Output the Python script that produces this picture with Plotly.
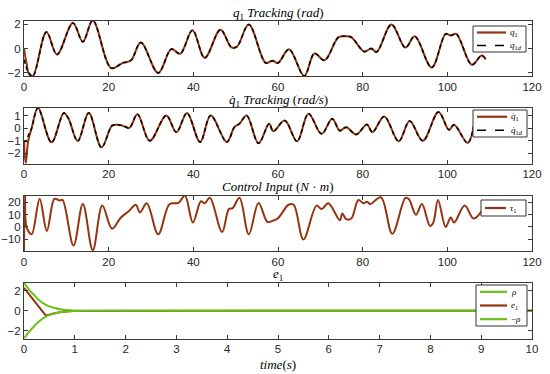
import plotly.graph_objects as go

# ---------------- data ----------------
q1_t = [0, 0.6, 1.2, 2.1, 5.3, 7.8, 11.55, 13.9, 16.25, 20.6, 23.3, 25.3, 27.6, 31.7, 34.8, 36.9,
        39.8, 42.7, 46.4, 49.0, 50.3, 53.1, 57.1, 58.7, 60.0, 62.6, 66.2, 68.6, 71.0, 74.3, 76.1,
        77.3, 80.4, 82.0, 83.3, 86.8, 90.1, 92.3, 96.3, 99.6, 100.8, 102.1, 105.8, 108.1, 109.1]
q1_v = [0.0, -1.2, -2.1, -2.25, 1.35, -0.48, 2.1, 0.56, 2.3, -1.6, -1.18, -0.96, 0.5, -2.0, -0.05, -0.42,
        1.5, -0.76, 1.55, 0.1, 0.15, 1.97, -1.18, -1.0, -1.18, -0.06, -2.25, -0.4, -0.96, 0.93, 1.0,
        0.93, -0.25, 0.0, -0.28, 1.97, 0.08, 1.0, -1.55, 1.2, 1.07, 1.2, -1.33, -0.56, -0.9]
q1d_head_t = [0, 1.0]
q1d_head_v = [-0.9, -1.9]

dq1_t = [0, 0.4, 1.0, 1.8, 3.3, 6.5, 9.4, 10.5, 12.7, 15.3, 18.3, 20.8, 22.0, 23.3, 24.9, 26.8, 29.7,
         33.6, 36.0, 38.5, 41.6, 44.1, 47.9, 49.7, 50.9, 52.6, 55.4, 57.9, 58.9, 61.6, 64.5, 67.2,
         70.3, 72.8, 74.6, 76.1, 78.5, 81.0, 82.3, 85.1, 88.5, 91.1, 94.2, 97.9, 100.4, 101.6, 104.8, 106.4]
dq1_v = [-1.0, -2.8, -1.0, 0.0, 1.6, -1.12, 1.2, 0.77, -1.02, 1.2, -1.52, 0.2, 0.27, 0.2, 0.03, 1.1, -1.0,
         1.0, -0.32, 1.2, -1.1, 1.0, -1.1, 0.08, 0.35, 1.0, -1.2, 0.35, -0.24, 0.6, -1.04, 1.15,
         -0.45, 0.75, -0.2, 0.08, -0.5, 0.3, -0.32, 0.93, -1.04, 0.56, -1.0, 1.28, -0.13, 0.27, -1.17, 0.48]
dq1d_head_t = [0, 0.5, 1.0]
dq1d_head_v = [-1.0, -1.05, -0.6]

tau_t = [0, 0.25, 0.6, 1.8, 3.7, 5.4, 7.2, 8.4, 9.1, 11.7, 13.9, 16.25, 18.5, 20.8, 22.9, 24.8, 26.4,
         27.4, 29.0, 31.7, 34.4, 36.5, 38.0, 39.9, 41.8, 42.7, 43.9, 46.8, 48.4, 49.3, 50.9, 53.1,
         55.4, 57.5, 58.7, 60.0, 62.5, 63.7, 66.0, 69.1, 70.3, 71.9, 74.6, 75.2, 76.1, 77.3, 79.0,
         80.2, 81.0, 81.8, 84.3, 87.0, 90.1, 90.9, 92.6, 94.0, 95.9, 96.7, 97.8, 99.6, 100.8, 101.6,
         104.1, 106.2, 108.7]
tau_v = [-19.5, 25.5, 0, -6, 22.7, -3.3, 22.7, 21.4, 21.9, -15, 18.6, -18.8, 17.3, -1.4, 7.7, 13.0, 18,
         11.8, 19.2, -6, 18.6, 19.5, 25.5, 3.6, 20.8, 19.2, 23.6, -4.1, 14.5, 15.3, 23.6, -6,
         19.5, 4.1, 4.9, 7.1, 18, 18, -10.1, 17.3, 14.5, 19.2, 5.5, 11, 6.3, 6.8, 21.9,
         19.2, 20.5, 18.6, 24.1, -5.5, 23.6, 22.7, 9.9, 18.6, 0.8, 3.6, 21.9, 0, 7.7, 3.6,
         17.3, 6.8, 15.9]

rho_t = [0, 0.12, 0.22, 0.31, 0.44, 0.58, 0.77, 0.97, 1.2, 10]
rho_v = [2.8, 2.0, 1.47, 1.0, 0.56, 0.3, 0.1, 0.03, 0.01, 0.01]
e1_t = [0, 0.43, 0.58, 0.77, 0.97, 10]
e1_v = [2.3, -0.5, -0.28, -0.09, -0.02, 0.0]

xticks_top = [0, 20, 40, 60, 80, 100, 120]
xticks_e = list(range(0, 11))
yticks1 = [-2, 0, 2]
yticks2 = [-2, -1, 0, 1]
yticks3 = [-10, 0, 10, 20]
yticks4 = [-2, 0, 2]

# ---------------- styling ----------------
W, H = 550, 374
BROWN = "#953410"
GREEN = "#6cc01c"
AX = "#3a3a3a"
SERIF = "Liberation Serif"
SANS = "Liberation Sans"


def px_x(p):
    return p / W


def px_y(p):
    return 1 - p / H


left, right = 24, 532
rows = [(20.5, 76), (108, 163.5), (195.5, 251), (283, 338.5)]

fig = go.Figure()

q1d_t = q1d_head_t + q1_t[3:]
q1d_v = q1d_head_v + q1_v[3:]
dq1d_t = dq1d_head_t + dq1_t[3:]
dq1d_v = dq1d_head_v + dq1_v[3:]

NM = {
    "q1": "<i>q</i><sub>1</sub>",
    "q1d": "<i>q</i><sub>1<i>d</i></sub>",
    "dq1": "<i>q\u0307</i><sub>1</sub>",
    "dq1d": "<i>q\u0307</i><sub>1<i>d</i></sub>",
    "tau": "<i>τ</i><sub>1</sub>",
    "rho": "<i>ρ</i>",
    "e1": "<i>e</i><sub>1</sub>",
    "mrho": "−<i>ρ</i>",
}
DASH = "4px,3px"

fig.add_trace(go.Scatter(x=q1_t, y=q1_v, mode="lines", line=dict(color=BROWN, width=2, shape="spline", smoothing=1),
                         name=NM["q1"], xaxis="x", yaxis="y"))
fig.add_trace(go.Scatter(x=q1d_t, y=q1d_v, mode="lines", line=dict(color="black", width=1.5, dash=DASH, shape="spline", smoothing=1),
                         name=NM["q1d"], xaxis="x", yaxis="y"))
fig.add_trace(go.Scatter(x=dq1_t, y=dq1_v, mode="lines", line=dict(color=BROWN, width=2, shape="spline", smoothing=1),
                         name=NM["dq1"], xaxis="x2", yaxis="y2"))
fig.add_trace(go.Scatter(x=dq1d_t, y=dq1d_v, mode="lines", line=dict(color="black", width=1.5, dash=DASH, shape="spline", smoothing=1),
                         name=NM["dq1d"], xaxis="x2", yaxis="y2"))
fig.add_trace(go.Scatter(x=tau_t, y=tau_v, mode="lines", line=dict(color=BROWN, width=2, shape="spline", smoothing=1),
                         name=NM["tau"], xaxis="x3", yaxis="y3"))
fig.add_trace(go.Scatter(x=rho_t, y=rho_v, mode="lines", line=dict(color=GREEN, width=2, shape="spline", smoothing=0.8),
                         name=NM["rho"], xaxis="x4", yaxis="y4"))
fig.add_trace(go.Scatter(x=e1_t, y=e1_v, mode="lines", line=dict(color=BROWN, width=2),
                         name=NM["e1"], xaxis="x4", yaxis="y4"))
fig.add_trace(go.Scatter(x=rho_t, y=[-v for v in rho_v], mode="lines", line=dict(color=GREEN, width=2, shape="spline", smoothing=0.8),
                         name=NM["mrho"], xaxis="x4", yaxis="y4"))

axis_common = dict(showline=True, linecolor=AX, linewidth=1, mirror="ticks", ticks="inside", ticklen=4,
                   tickcolor=AX, showgrid=False, zeroline=False, automargin=False,
                   tickfont=dict(family=SANS, size=11.5, color="#262626"))

yranges = [[-2.25, 2.3], [-2.8, 1.6], [-19.5, 25.5], [-2.8, 2.8]]
ytickv = [yticks1, yticks2, yticks3, yticks4]
layout = {}
for i, (top, bot) in enumerate(rows):
    sfx = "" if i == 0 else str(i + 1)
    xr = [0, 10] if i == 3 else [0, 120]
    xt = xticks_e if i == 3 else xticks_top
    layout["xaxis" + sfx] = dict(axis_common, domain=[px_x(left), px_x(right)], anchor="y" + sfx,
                                 range=xr, tickvals=xt)
    layout["yaxis" + sfx] = dict(axis_common, domain=[px_y(bot), px_y(top)], anchor="x" + sfx,
                                 range=yranges[i], tickvals=ytickv[i])

# ---------------- titles ----------------
titles = [
    ("<i>q</i><sub>1</sub> <i>Tracking</i> (<i>rad</i>)", 13),
    ("<i>q\u0307</i><sub>1</sub> <i>Tracking</i> (<i>rad/s</i>)", 101),
    ("<i>Control Input</i> (<i>N</i> · <i>m</i>)", 186.5),
    ("<i>e</i><sub>1</sub>", 274.5),
    ("<i>time</i>(<i>s</i>)", 364),
]
annotations = []
shapes = []
for txt, yc in titles:
    annotations.append(dict(text=txt, x=px_x((left + right) / 2), y=px_y(yc), xref="paper", yref="paper",
                            xanchor="center", yanchor="middle", showarrow=False,
                            font=dict(family=SERIF, size=13, color="black")))

# ---------------- legends (drawn as boxes) ----------------
legends = [
    ((473, 26, 526, 52), [("q1", BROWN, "solid", 2.2), ("q1d", "black", "dash", 1.5)]),
    ((473, 110, 527, 137), [("dq1", BROWN, "solid", 2.2), ("dq1d", "black", "dash", 1.5)]),
    ((481, 200, 526, 216), [("tau", BROWN, "solid", 2.2)]),
    ((476, 285, 527, 326), [("rho", GREEN, "solid", 2.2), ("e1", BROWN, "solid", 2.2), ("mrho", GREEN, "solid", 2.2)]),
]
for (x0, y0, x1, y1), entries in legends:
    shapes.append(dict(type="rect", xref="paper", yref="paper", x0=px_x(x0), x1=px_x(x1), y0=px_y(y1), y1=px_y(y0),
                       line=dict(color="#333", width=1), fillcolor="white", layer="above"))
    n = len(entries)
    step = (y1 - y0) / n
    for k, (key, col, dash, wd) in enumerate(entries):
        yc = y0 + step * (k + 0.5)
        lx0 = x0 + 4
        lx1 = x1 - 20
        shapes.append(dict(type="line", xref="paper", yref="paper", x0=px_x(lx0), x1=px_x(lx1), y0=px_y(yc), y1=px_y(yc),
                           line=dict(color=col, width=wd, dash=dash), layer="above"))
        annotations.append(dict(text=NM[key], x=px_x(lx1 + 2), y=px_y(yc), xref="paper", yref="paper",
                                xanchor="left", yanchor="middle", showarrow=False,
                                font=dict(family=SERIF, size=9, color="black")))

fig.update_layout(**layout)
fig.update_layout(width=W, height=H, margin=dict(l=0, r=0, t=0, b=0, autoexpand=False), paper_bgcolor="white",
                  plot_bgcolor="white", showlegend=False, annotations=annotations, shapes=shapes)

fig.write_html("out.html", config={"displayModeBar": False},
               post_script="document.body.style.margin='0';")
